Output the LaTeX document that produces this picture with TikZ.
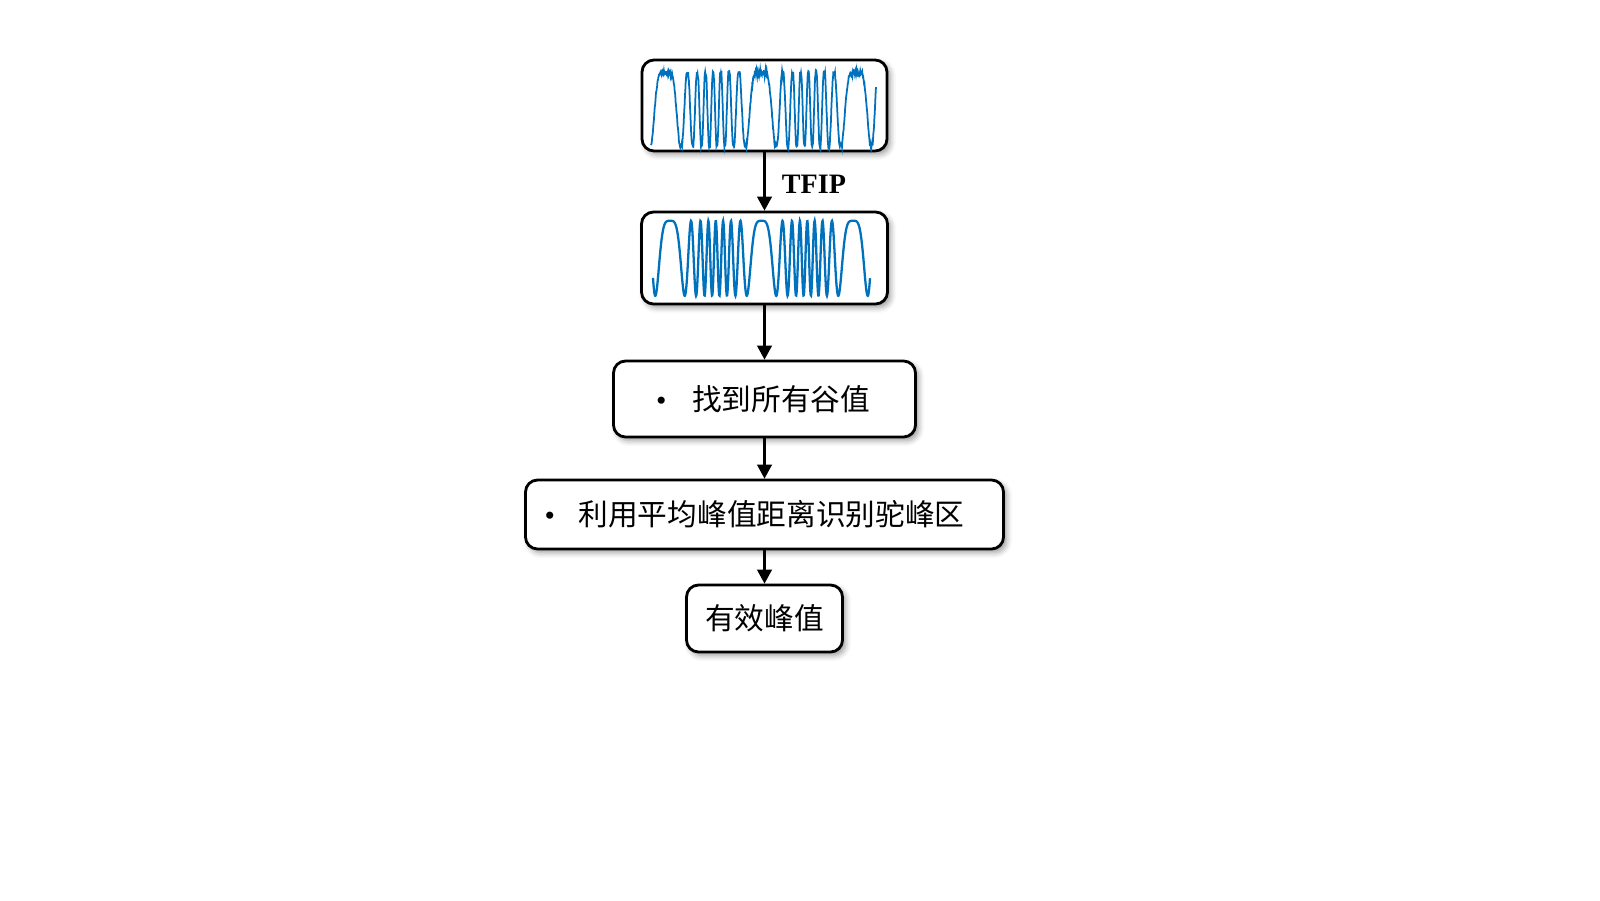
\documentclass[tikz,border=0pt]{standalone}
\usepackage{fontspec}
\setmainfont{Liberation Serif}
\newfontfamily\cjk{Noto Sans CJK SC}
\usetikzlibrary{arrows.meta, shadows.blur}
\definecolor{wave}{RGB}{0,114,189}
\tikzset{
    stepbox/.style={draw, line width=0.8pt, rounded corners=0.12cm, fill=white, inner sep=0pt,
        blur shadow={shadow xshift=0.9pt, shadow yshift=-1pt, shadow blur radius=1.6pt, shadow opacity=40}},
    flow/.style={line width=0.6pt, -{Triangle[length=4pt, width=4.2pt]}},
    zh/.style={font=\cjk\fontsize{8.45pt}{10pt}\selectfont}
}

\begin{document}
\begin{tikzpicture}
                    \useasboundingbox (0, 0) rectangle (16, -9);
                    \node[stepbox, minimum width=2.45cm, minimum height=0.91cm] (raw) at (7.645, -1.055) {};
                    \node[stepbox, minimum width=2.46cm, minimum height=0.92cm] (filt) at (7.645, -2.58) {};
                    \node[stepbox, zh, text width=2.17cm, inner xsep=0.425cm, minimum height=0.76cm, align=left] (valley) at (7.645, -3.99) {\makebox[0.36cm][l]{\rmfamily\textbullet}找到所有谷值};
                    \node[stepbox, zh, text width=4.40cm, inner xsep=0.19cm, minimum height=0.69cm, align=left] (hump) at (7.645, -5.145) {\makebox[0.34cm][l]{\rmfamily\textbullet}利用平均峰值距离识别驼峰区};
                    \node[stepbox, zh, minimum width=1.56cm, minimum height=0.67cm] (peak) at (7.645, -6.185) {有效峰值};
                    \node[font=\bfseries\fontsize{8pt}{9pt}\selectfont] (tfip) at (8.14, -1.845) {TFIP};
                    % signals inside the two upper boxes
                    \pgfmathsetseed{7}
                    \draw[wave, line width=0.5pt] plot[domain=6.51:8.76, samples=700] (\x, {-1.085 + 0.37*max(-1, min(1, 1.12*cos(1440*(1-cos(360*(\x-6.655)/1.905))))) + 0.018*rand - 0.035*abs(rand)*(cos(1440*(1-cos(360*(\x-6.655)/1.905)))>0.8)});
                    \draw[wave, line width=0.65pt] plot[domain=6.53:8.70, samples=600] (\x, {-2.583 + 0.375*cos(1440*(1-cos(360*(\x-6.70)/1.83)))});
                    \draw[flow] (raw.south) -- (filt.north);
                    \draw[flow] (filt.south) -- (valley.north);
                    \draw[flow] (valley.south) -- (hump.north);
                    \draw[flow] (hump.south) -- (peak.north);
                \end{tikzpicture}
\end{document}
